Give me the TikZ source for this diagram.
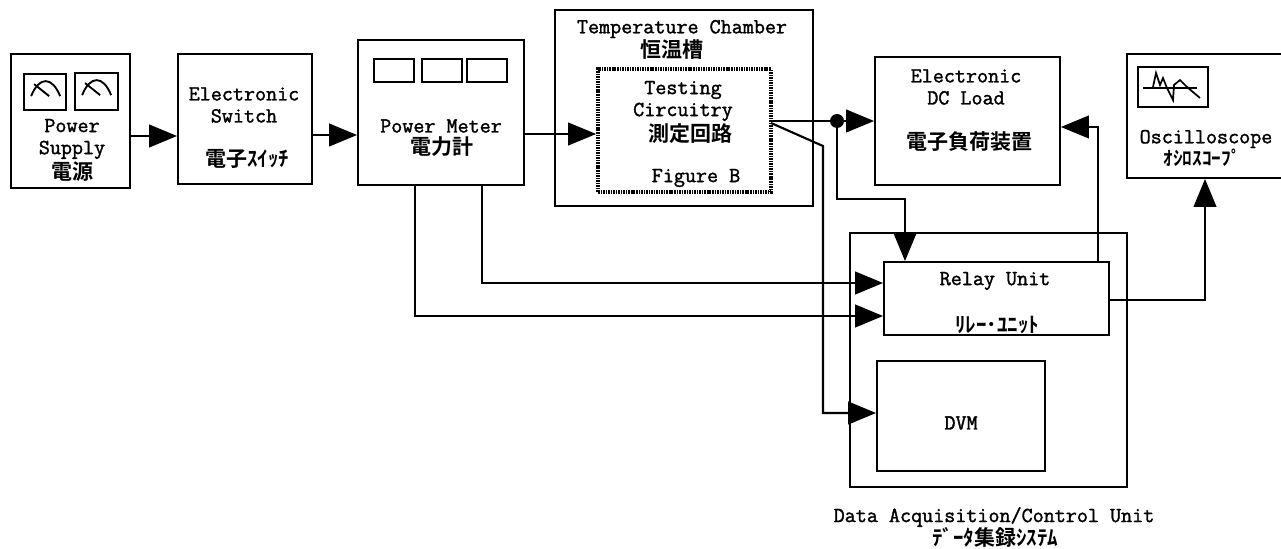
\documentclass[tikz,border=0pt]{standalone}
\usepackage{fontspec}
\newfontfamily\jpfont{Noto Sans CJK JP}[BoldFont={Noto Sans CJK JP Bold}]
\newfontfamily\labelfont{Latin Modern Mono}[FakeBold=1.6]
\usepackage{tikz}
\usetikzlibrary{arrows.meta}
\tikzset{
    unitbox/.style={draw,line width=1.4pt,inner sep=0pt},
    smallbox/.style={draw,line width=1.3pt,inner sep=0pt},
    testbox/.style={draw,line width=2.8pt,dash pattern=on 1.2pt off .7pt,inner sep=0pt},
    lbl/.style={font=\fontsize{16.1}{16.5}\selectfont\labelfont,align=center,inner sep=0pt},
    jplbl/.style={font=\fontsize{15.75}{16.5}\selectfont\jpfont\bfseries,align=center,inner sep=0pt},
    conn/.style={line width=1.6pt},
    sig/.style={conn,-{Triangle[length=21pt,width=17pt]}},
}
% corner to corner box, given in pixels of the page
\newcommand{\unitat}[6][unitbox]{\node[#1,minimum width={(#5-#3)*.75pt},minimum height={(#6-#4)*.75pt}] (#2) at ({(#3+#5)/2},{(#4+#6)/2}) {};}
\begin{document}
\begin{tikzpicture}[x=.75pt,y=-.75pt]
    \useasboundingbox (0,0) rectangle (1281,549);

    \unitat{psu}{11}{54}{130}{188}
    \unitat{switch}{178}{54}{312}{184}
    \unitat{meter}{358}{40}{524}{185}
    \unitat{chamber}{555}{10}{813}{206}
    \unitat[testbox]{test}{598}{69}{771}{192}
    \unitat{load}{875}{57}{1060}{185}
    \unitat{scope}{1127}{54}{1290}{178}
    \unitat{daq}{850}{233}{1127}{487}
    \unitat{relay}{884}{262}{1109}{335}
    \unitat{dvm}{877}{361}{1045}{471}

    % meters of the supply
    \unitat[smallbox]{dialA}{24}{74}{66}{110}
    \unitat[smallbox]{dialB}{75}{73}{118}{110}
    \foreach \n in {dialA,dialB} {
        \draw[line width=1.4pt] ([shift={(8,23)}]\n.north west) .. controls +(8,-20) and +(-8,-20) .. +(29,0);
        \draw[line width=1.4pt] ([shift={(11,11)}]\n.north west) -- +(15,12);
    }
    % displays of the power meter
    \foreach \n/\x in {dispA/374,dispB/422,dispC/467}
        \unitat[smallbox]{\n}{\x}{59}{\x+40}{82}
    % screen of the scope
    \unitat[smallbox]{screen}{1138}{67}{1208}{107}
    \draw[line width=1pt] (1143,88) -- (1197,88);
    \draw[line width=1.3pt] (1153,87) -- (1156,73) -- (1160,85) -- (1163,78) -- (1167,88) -- (1173,100) -- (1174,85) -- (1180,80) -- (1187,87) -- (1200,98);

    % labels
    \node[lbl] (psutext) at (72,139) {Power\\Supply};
    \node[jplbl] (psujp) at (72,172) {電源};
    \node[lbl] (switchtext) at (244,105) {Electronic\\Switch};
    \node[jplbl] (switchjp) at (247,159) {電子ｽｲｯﾁ};
    \node[lbl] (metertext) at (441,126) {Power Meter};
    \node[jplbl] (meterjp) at (442,147) {電力計};
    \node[lbl] (chambertext) at (682,29) {Temperature Chamber};
    \node[jplbl] (chamberjp) at (672,50) {恒温槽};
    \node[lbl] (testtext) at (683,101) {Testing\\Circuitry};
    \node[jplbl] (testjp) at (690,134) {測定回路};
    \node[lbl] (figtext) at (696,178) {Figure B};
    \node[lbl] (loadtext) at (966,87) {Electronic\\DC Load};
    \node[jplbl] (loadjp) at (969,142) {電子負荷装置};
    \node[lbl] (scopetext) at (1206,139) {Oscilloscope};
    \node[jplbl,font=\fontsize{14.5}{15}\selectfont\jpfont\bfseries] (scopejp) at (1202,158) {ｵｼﾛｽｺｰﾌﾟ};
    \node[lbl] (relaytext) at (995,281) {Relay Unit};
    \node[jplbl] (relayjp) at (997,325) {ﾘﾚｰ･ﾕﾆｯﾄ};
    \node[lbl] (dvmtext) at (961,423) {DVM};
    \node[lbl] (daqtext) at (994,517) {Data Acquisition/Control Unit};
    \node[jplbl] (daqjp) at (995,537) {ﾃﾞｰﾀ集録ｼｽﾃﾑ};

    % connector heights and bends
    \coordinate (rowA) at (0,136);
    \coordinate (rowB) at (0,135);
    \coordinate (rowC) at (0,134);
    \coordinate (rowD) at (0,121);
    \coordinate (rowE) at (0,127);
    \coordinate (rowF) at (0,283);
    \coordinate (rowG) at (0,316);
    \coordinate (rowH) at (0,300);
    \coordinate (rowI) at (0,413);
    \coordinate (dot) at (837,121);
    \coordinate (bendA) at (905,199);
    \coordinate (bendB) at (1098,127);
    \coordinate (bendC) at (1205,300);
    \coordinate (bendD) at (823,146);
    \coordinate (tapA) at (482,185);
    \coordinate (tapB) at (415,185);
    \coordinate (tapC) at (771,123);

    \draw[sig] (psu.east |- rowA) -- (switch.west |- rowA);
    \draw[sig] (switch.east |- rowB) -- (meter.west |- rowB);
    \draw[sig] (meter.east |- rowC) -- (test.west |- rowC);
    \draw[sig] (test.east |- rowD) -- (load.west |- rowD);
    \fill (dot) circle (5.25pt);
    \draw[sig] (dot) |- (bendA) -- (bendA |- relay.north);
    \draw[sig] (tapC) -- (bendD) |- (dvm.west |- rowI);
    \draw[sig] (tapA) |- (relay.west |- rowF);
    \draw[sig] (tapB) |- (relay.west |- rowG);
    \draw[sig] (bendB |- relay.north) |- (load.east |- rowE);
    \draw[sig] (relay.east |- rowH) -| (bendC |- scope.south);
\end{tikzpicture}
\end{document}
